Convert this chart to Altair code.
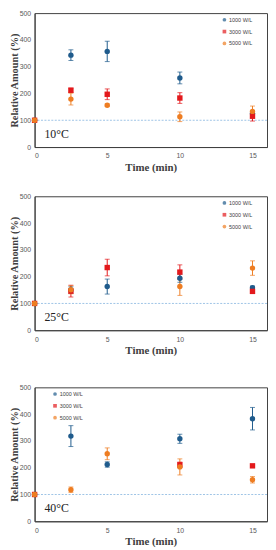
import altair as alt
import pandas as pd

times = [0, 2.5, 5, 10, 15]
series_names = ["1000 W/L", "3000 W/L", "5000 W/L"]
colors = ["#1f5b8c", "#e3191c", "#ee7d22"]
shapes = ["circle", "square", "circle"]
x_ticks = [0, 5, 10, 15]
y_ticks = [0, 100, 200, 300, 400, 500]
panel_labels = ["10°C", "25°C", "40°C"]

# 10 °C
p10_1000 = [100, 343, 357, 258, 125]
p10_1000_err = [0, 20, 38, 22, 10]
p10_3000 = [100, 212, 197, 183, 115]
p10_3000_err = [0, 8, 20, 20, 18]
p10_5000 = [100, 179, 156, 113, 133]
p10_5000_err = [0, 22, 5, 18, 20]

# 25 °C
p25_1000 = [100, 150, 163, 194, 159]
p25_1000_err = [0, 12, 28, 15, 6]
p25_3000 = [100, 146, 234, 217, 145]
p25_3000_err = [0, 22, 31, 27, 8]
p25_5000 = [100, 151, None, 163, 232]
p25_5000_err = [0, 15, None, 33, 27]

# 40 °C
p40_1000 = [100, 318, 212, 308, 383]
p40_1000_err = [0, 39, 10, 17, 42]
p40_3000 = [100, None, None, 211, 207]
p40_3000_err = [0, None, None, 10, 5]
p40_5000 = [100, 118, 252, 203, 155]
p40_5000_err = [0, 10, 22, 30, 12]


def make_df(vals, errs):
    rows = []
    for name, v, e in zip(series_names, vals, errs):
        for t, y, d in zip(times, v, e):
            if y is None:
                continue
            rows.append({"time": t, "value": y, "lo": y - d, "hi": y + d, "series": name})
    return pd.DataFrame(rows)


SERIF = "Liberation Serif"
SANS = "Liberation Sans"


def panel(df, label, lx, ly):
    xenc = alt.X("time:Q", scale=alt.Scale(domain=[0, 16], nice=False),
                 axis=alt.Axis(values=x_ticks, title="Time (min)", grid=False, ticks=False,
                               labelPadding=5, titlePadding=3, labelFontSize=7,
                               labelColor="#595959", labelFont=SANS,
                               titleFont=SERIF, titleFontSize=11, titleFontWeight="bold",
                               titleColor="#404040", domainColor="#404040"))
    yscale = alt.Scale(domain=[0, 500], nice=False)
    yaxis = alt.Axis(values=y_ticks, title="Relative Amount (%)", grid=False, ticks=False,
                     labelPadding=4, titlePadding=0, labelFontSize=7,
                     labelColor="#595959", labelFont=SANS,
                     titleFont=SERIF, titleFontSize=10.5, titleFontWeight="bold",
                     titleColor="#404040", domainColor="#404040")
    cscale = alt.Scale(domain=series_names, range=colors)
    sscale = alt.Scale(domain=series_names, range=shapes)
    leg = alt.Legend(title=None, orient="none", legendX=lx, legendY=ly, labelFontSize=5.5,
                     labelFont=SANS, labelColor="#404040", symbolSize=14, rowPadding=5,
                     labelOffset=2, padding=0, symbolStrokeWidth=0)
    color = alt.Color("series:N", scale=cscale, legend=leg)

    base_line = alt.Chart(pd.DataFrame({"v": [100]})).mark_rule(
        color="#9dc3e6", strokeDash=[2, 1.5], strokeWidth=1
    ).encode(y=alt.Y("v:Q", scale=yscale, axis=yaxis))

    pts = alt.Chart(df).mark_point(filled=True, opacity=1).encode(
        x=xenc,
        y=alt.Y("value:Q", scale=yscale, axis=yaxis),
        color=color,
        shape=alt.Shape("series:N", scale=sscale, legend=leg),
        size=alt.value(30),
    )
    bars = alt.Chart(df).mark_rule(strokeWidth=1).encode(
        x=xenc,
        y=alt.Y("lo:Q", scale=yscale, axis=yaxis),
        y2="hi:Q",
        color=color,
    )
    cap_lo = alt.Chart(df).mark_tick(orient="horizontal", size=5, thickness=1).encode(
        x=xenc, y=alt.Y("lo:Q", scale=yscale, axis=yaxis), color=color,
    )
    cap_hi = alt.Chart(df).mark_tick(orient="horizontal", size=5, thickness=1).encode(
        x=xenc, y=alt.Y("hi:Q", scale=yscale, axis=yaxis), color=color,
    )
    txt = alt.Chart(pd.DataFrame({"lab": [label]})).mark_text(
        align="left", baseline="middle", font=SERIF, fontSize=12, color="#222222"
    ).encode(x=alt.value(10), y=alt.value(123), text="lab:N")

    return alt.layer(base_line, bars, cap_lo, cap_hi, pts, txt).properties(width=236, height=136)


df10 = make_df([p10_1000, p10_3000, p10_5000], [p10_1000_err, p10_3000_err, p10_5000_err])
df25 = make_df([p25_1000, p25_3000, p25_5000], [p25_1000_err, p25_3000_err, p25_5000_err])
df40 = make_df([p40_1000, p40_3000, p40_5000], [p40_1000_err, p40_3000_err, p40_5000_err])

c1 = panel(df10, panel_labels[0], 190, 4)
c2 = panel(df25, panel_labels[1], 190, 4)
c3 = panel(df40, panel_labels[2], 18, 4)

top = alt.vconcat(c1, c2, spacing=18).resolve_scale(
    color="independent", shape="independent"
).resolve_legend(color="independent", shape="independent")
chart = alt.vconcat(top, c3, spacing=26).resolve_scale(
    color="independent", shape="independent"
).resolve_legend(
    color="independent", shape="independent"
).configure(
    padding={"top": -4, "left": 0, "right": 0, "bottom": 0}, background="white"
).configure_view(stroke="#404040", strokeWidth=1)

chart.save("out.html", embed_options={"renderer": "svg", "actions": False})
